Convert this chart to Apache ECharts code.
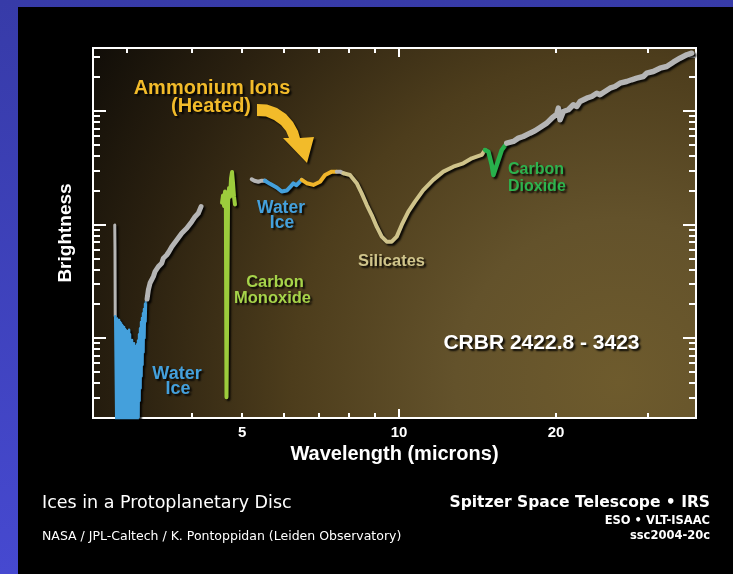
<!DOCTYPE html>
<html>
<head>
<meta charset="utf-8">
<title>Ices in a Protoplanetary Disc</title>
<script src="https://cdn.jsdelivr.net/npm/echarts@6/dist/echarts.min.js"></script>
<style>
  html, body { margin: 0; padding: 0; }
  body { width: 733px; height: 574px; overflow: hidden; background: linear-gradient(#373ba8, #4649d0); }
  #panel { position: absolute; left: 18px; top: 7px; width: 715px; height: 567px; background: #000; }
  #chart { position: absolute; left: 0; top: 0; width: 733px; height: 574px; }
</style>
</head>
<body>
<div id="panel"></div>
<div id="chart"></div>
<script>
// spectrum pieces: [wavelength (microns), brightness (arbitrary, log)]
const grayA = [[2.850, 0.99], [2.853, 0.60], [2.856, 0.155]];
const waterIce1 = [
  [2.856, 0.155], [2.866, 0.150], [2.872, 0.012], [2.879, 0.148], [2.885, 0.012], [2.892, 0.142],
  [2.898, 0.012], [2.905, 0.144], [2.911, 0.045], [2.918, 0.138], [2.924, 0.012], [2.931, 0.135],
  [2.937, 0.012], [2.944, 0.130], [2.950, 0.012], [2.957, 0.127], [2.963, 0.020], [2.970, 0.125],
  [2.976, 0.012], [2.983, 0.120], [2.990, 0.040], [2.996, 0.117], [3.003, 0.012], [3.009, 0.115],
  [3.016, 0.012], [3.022, 0.112], [3.029, 0.030], [3.036, 0.118], [3.042, 0.012], [3.049, 0.108],
  [3.056, 0.012], [3.063, 0.092], [3.069, 0.012], [3.076, 0.096], [3.083, 0.012], [3.090, 0.088],
  [3.096, 0.030], [3.103, 0.090], [3.110, 0.012], [3.117, 0.085], [3.124, 0.012], [3.131, 0.083],
  [3.138, 0.012], [3.145, 0.088], [3.152, 0.015], [3.159, 0.095], [3.166, 0.020], [3.173, 0.108],
  [3.180, 0.028], [3.187, 0.122], [3.194, 0.036], [3.201, 0.138], [3.208, 0.046], [3.215, 0.150],
  [3.222, 0.058], [3.229, 0.165], [3.236, 0.075], [3.243, 0.180], [3.250, 0.100], [3.258, 0.200],
  [3.265, 0.140], [3.272, 0.210], [3.287, 0.220]
];
const grayB = [
  [3.287, 0.220], [3.306, 0.265], [3.331, 0.305], [3.380, 0.347], [3.405, 0.384], [3.455, 0.425],
  [3.507, 0.455], [3.532, 0.504], [3.585, 0.538], [3.620, 0.575], [3.640, 0.565], [3.666, 0.637],
  [3.748, 0.730], [3.831, 0.837], [3.916, 0.926], [4.004, 1.059], [4.063, 1.171], [4.122, 1.255],
  [4.172, 1.435]
];
const coBand = [
  [4.577, 1.55], [4.597, 1.80], [4.618, 1.45], [4.638, 1.95], [4.655, 1.60], [4.668, 0.030],
  [4.690, 0.030], [4.700, 1.55], [4.721, 2.10], [4.742, 1.75], [4.763, 2.55], [4.784, 2.90],
  [4.805, 2.30], [4.826, 1.75], [4.847, 1.50]
];
const grayC = [[5.218, 2.50], [5.279, 2.43], [5.373, 2.38], [5.454, 2.43], [5.534, 2.43]];
const waterIce2 = [
  [5.534, 2.43], [5.657, 2.28], [5.827, 2.12], [5.958, 1.95], [6.000, 1.93], [6.091, 1.99],
  [6.180, 2.13], [6.271, 2.30], [6.360, 2.22], [6.411, 2.24], [6.508, 2.47]
];
const ammonium = [[6.508, 2.47], [6.653, 2.31], [6.850, 2.23], [7.056, 2.38], [7.213, 2.73], [7.430, 2.92], [7.596, 2.92]];
const grayD = [[7.596, 2.92], [7.708, 2.92], [7.821, 2.83]];
const silicate = [
  [7.821, 2.83], [8.054, 2.73], [8.296, 2.31], [8.481, 1.88], [8.670, 1.49], [8.864, 1.21],
  [9.062, 0.956], [9.265, 0.781], [9.472, 0.705], [9.683, 0.705], [9.899, 0.781], [10.12, 0.990],
  [10.42, 1.30], [10.73, 1.59], [11.13, 2.01], [11.63, 2.47], [12.16, 2.92], [12.71, 3.23],
  [13.28, 3.46], [13.79, 3.83], [14.09, 3.96], [14.19, 3.83], [14.41, 4.10], [14.62, 4.53]
];
const co2Band = [[14.62, 4.53], [14.84, 4.38], [15.06, 3.34], [15.17, 2.73], [15.28, 2.83], [15.51, 3.70], [15.74, 4.53], [16.09, 5.19]];
const grayE = [
  [16.09, 5.20], [16.57, 5.39], [16.94, 5.76], [17.31, 5.96], [17.83, 6.38], [18.23, 6.69],
  [18.64, 7.16], [19.20, 7.81], [19.63, 8.64], [20.07, 9.37], [20.21, 10.59], [20.36, 8.37],
  [20.66, 9.90], [21.12, 10.25], [21.59, 11.34], [21.92, 10.96], [22.24, 12.12], [22.91, 12.97],
  [23.42, 13.42], [23.94, 14.35], [24.29, 13.89], [24.83, 14.85], [25.39, 15.88], [25.95, 16.44],
  [26.53, 17.58], [27.33, 18.20], [27.93, 18.84], [28.57, 19.45], [29.41, 20.14], [29.85, 21.53],
  [30.73, 22.28], [31.66, 23.83], [32.61, 24.67], [33.57, 26.92], [34.58, 29.19], [35.62, 31.27],
  [36.41, 32.30]
];

// axes
const xRange = [2.589, 37.11];
const yRange = [0.0197, 35.9];
const xLabelValues = [5, 10, 20];
const xMinorTicks = [3, 4, 5, 6, 7, 8, 9, 20, 30];
const xMajorTicks = [10];
const yMinorTicks = [0.03, 0.04, 0.05, 0.06, 0.07, 0.08, 0.09, 0.2, 0.3, 0.4, 0.5, 0.6, 0.7, 0.8, 0.9,
  2, 3, 4, 5, 6, 7, 8, 9, 20, 30];
const yMajorTicks = [0.1, 1, 10];

const FONT = '"Liberation Sans", Arial, sans-serif';
const FONT2 = '"DejaVu Sans", sans-serif';

let mychart = echarts.init(document.getElementById('chart'));

function seg(data, color, width) {
  return {
    type: 'line', data: data, xAxisIndex: 0, yAxisIndex: 0,
    symbol: 'none', showSymbol: false, silent: true, z: 3,
    lineStyle: {
      color: color, width: width, join: 'round', cap: 'round',
      shadowColor: 'rgba(0,0,0,0.85)', shadowBlur: 2, shadowOffsetX: 2, shadowOffsetY: 2
    }
  };
}

function xAx(position, ticks, len) {
  return {
    type: 'log', logBase: 10, min: xRange[0], max: xRange[1], position: position,
    axisLine: { show: false, onZero: false }, splitLine: { show: false },
    axisTick: { show: true, inside: true, length: len, customValues: ticks, lineStyle: { color: '#fff', width: 2 } },
    axisLabel: { show: false }
  };
}
function yAx(position, ticks, len) {
  return {
    type: 'log', logBase: 10, min: yRange[0], max: yRange[1], position: position,
    axisLine: { show: false, onZero: false }, splitLine: { show: false },
    axisTick: { show: true, inside: true, length: len, customValues: ticks, lineStyle: { color: '#fff', width: 2 } },
    axisLabel: { show: false }
  };
}

// bottom axis with labels and name
let xMain = xAx('bottom', xMinorTicks, 5);
xMain.axisLabel = {
  show: true, customValues: xLabelValues, margin: 7,
  color: '#fff', fontSize: 15, fontWeight: 'bold', fontFamily: FONT,
  formatter: function (v) { return String(Math.round(v)); }
};
xMain.name = 'Wavelength (microns)';
xMain.nameLocation = 'middle';
xMain.nameGap = 26;
xMain.nameMoveOverlap = false;
xMain.nameTextStyle = { color: '#fff', fontSize: 20, fontWeight: 'bold', fontFamily: FONT };

let yMain = yAx('left', yMinorTicks, 7);
yMain.name = 'Brightness';
yMain.nameLocation = 'middle';
yMain.nameGap = 18;
yMain.nameMoveOverlap = false;
yMain.nameTextStyle = { color: '#fff', fontSize: 19, fontWeight: 'bold', fontFamily: FONT };

function txt(text, x, y, color, size, align, font) {
  return {
    type: 'text', x: x, y: y, z: 100, silent: true,
    style: {
      text: text, fill: color, font: 'bold ' + size + 'px ' + (font || FONT),
      textAlign: align || 'center', textVerticalAlign: 'middle',
      align: align || 'center', verticalAlign: 'middle',
      textShadowColor: 'rgba(0,0,0,0.9)', textShadowBlur: 2, textShadowOffsetX: 2, textShadowOffsetY: 2
    }
  };
}
function plain(text, x, y, size, align, weight) {
  return {
    type: 'text', x: x, y: y, z: 100, silent: true,
    style: {
      text: text, fill: '#fff', font: (weight || 'normal') + ' ' + size + 'px ' + FONT2,
      textAlign: align, textVerticalAlign: 'middle', align: align, verticalAlign: 'middle'
    }
  };
}

const gold = '#f2bb2a';

mychart.setOption({
  animation: false,
  grid: {
    left: 93, top: 48, right: 37, bottom: 156, show: true,
    borderColor: '#fff', borderWidth: 2, outerBoundsMode: 'none',
    backgroundColor: {
      type: 'radial', x: 0.87, y: 0.9, r: 1.75,
      colorStops: [
        { offset: 0, color: '#6e5b2d' },
        { offset: 0.25, color: '#63522b' },
        { offset: 0.5, color: '#4d3d1c' },
        { offset: 0.75, color: '#2b2110' },
        { offset: 1, color: '#0b0906' }
      ]
    }
  },
  xAxis: [xMain, xAx('bottom', xMajorTicks, 9), xAx('top', xMinorTicks, 5), xAx('top', xMajorTicks, 9)],
  yAxis: [yMain, yAx('left', yMajorTicks, 13), yAx('right', yMinorTicks, 7), yAx('right', yMajorTicks, 13)],
  series: [
    seg(grayA, '#b5b5b5', 3),
    seg(waterIce1, '#44a0dc', 2.5),
    seg(grayB, '#b5b5b5', 5),
    seg(coBand, '#9ccc3c', 4),
    seg(grayC, '#b5b5b5', 4),
    seg(waterIce2, '#44a0dc', 4),
    seg(ammonium, '#f0b52a', 4),
    seg(grayD, '#b5b5b5', 4),
    seg(silicate, '#cfc38a', 4),
    seg(co2Band, '#28b04c', 4.5),
    seg(grayE, '#b5b5b5', 5.5)
  ],
  graphic: [
    // curved arrow pointing at the heated ammonium band
    {
      type: 'polygon', z: 90, silent: true,
      shape: { points: [[257, 104], [267, 104.5], [277, 108], [286, 114], [293, 122], [298, 131], [300, 138],
        [314, 137], [307, 163], [283, 138], [289, 138], [286, 131], [281, 125], [274, 120], [266, 116.5], [257, 116]] },
      style: { fill: gold, shadowColor: 'rgba(0,0,0,0.8)', shadowBlur: 2, shadowOffsetX: 2, shadowOffsetY: 2 }
    },
    txt('Ammonium Ions', 212, 88, gold, 20),
    txt('(Heated)', 211, 106, gold, 20),
    txt('Water', 177, 374, '#44a0dc', 18),
    txt('Ice', 178, 389, '#44a0dc', 18),
    txt('Water', 281, 208, '#44a0dc', 17.5),
    txt('Ice', 282, 223.5, '#44a0dc', 17.5),
    txt('Carbon', 275, 282.5, '#a6d44a', 16.5),
    txt('Monoxide', 272.5, 298.5, '#a6d44a', 16.5),
    txt('Silicates', 391.5, 261, '#d0c58c', 16.5),
    txt('Carbon', 508, 170, '#2db34e', 16, 'left'),
    txt('Dioxide', 508, 186.5, '#2db34e', 16, 'left'),
    txt('CRBR 2422.8 - 3423', 541.5, 343, '#fff', 21),
    plain('Ices in a Protoplanetary Disc', 42, 503, 17.5, 'left'),
    plain('NASA / JPL-Caltech / K. Pontoppidan (Leiden Observatory)', 42, 537, 12.5, 'left'),
    plain('Spitzer Space Telescope \u2022 IRS', 710, 503, 15.5, 'right', 'bold'),
    plain('ESO \u2022 VLT-ISAAC', 710, 521, 11.5, 'right', 'bold'),
    plain('ssc2004-20c', 710, 536, 11.5, 'right', 'bold')
  ]
});
</script>
</body>
</html>
